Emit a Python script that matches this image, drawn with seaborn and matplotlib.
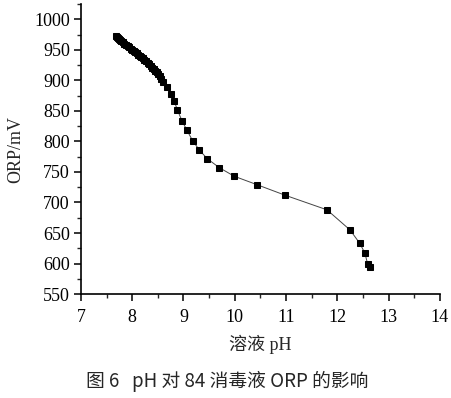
import matplotlib
matplotlib.use('Agg')
import matplotlib.pyplot as plt
from matplotlib.ticker import MultipleLocator
import seaborn as sns
import pandas as pd

# pH vs ORP readings, estimated from the figure
ph = [7.68, 7.70, 7.72, 7.74, 7.76, 7.79, 7.82, 7.85, 7.88, 7.91,
      7.94, 7.97, 8.00, 8.03, 8.06, 8.09, 8.12, 8.15, 8.18, 8.21,
      8.24, 8.27, 8.30, 8.33, 8.36, 8.39, 8.42, 8.45, 8.48, 8.51,
      8.54, 8.57, 8.61, 8.67, 8.75, 8.82, 8.88, 8.97, 9.07, 9.18,
      9.31, 9.46, 9.70, 9.99, 10.44, 10.98, 11.80, 12.25, 12.44, 12.54,
      12.59, 12.63]
orp = [973, 971, 970, 968, 966, 964, 962, 960, 958, 956,
       954, 952, 950, 948, 946, 944, 942, 940, 938, 936,
       933, 931, 929, 926, 924, 921, 919, 916, 913, 910,
       907, 903, 898, 889, 878, 866, 852, 834, 818, 801,
       786, 772, 757, 743, 729, 712, 688, 655, 633, 617,
       600, 594]

x_ticks = [7, 8, 9, 10, 11, 12, 13, 14]
y_ticks = [550, 600, 650, 700, 750, 800, 850, 900, 950, 1000]

df = pd.DataFrame({'pH': ph, 'ORP': orp})

sns.set_style('ticks')
serif = ['Liberation Serif', 'Noto Sans CJK SC']
plt.rcParams['font.family'] = serif

fig = plt.figure(figsize=(4.52, 3.98), dpi=100)
ax = fig.add_axes([0.179, 0.261, 0.794, 0.729])

sns.lineplot(data=df, x='pH', y='ORP', ax=ax, sort=False, estimator=None,
             color='#444444', linewidth=0.7, marker='s', markersize=4.3,
             markerfacecolor='black', markeredgecolor='black')

ax.set_xlim(7, 14)
ax.set_ylim(550, 1025)
ax.set_xticks(x_ticks)
ax.set_yticks(y_ticks)
ax.xaxis.set_minor_locator(MultipleLocator(0.5))
ax.yaxis.set_minor_locator(MultipleLocator(25))
ax.tick_params(which='major', direction='out', length=5, width=1.1,
               labelsize=13, colors='black')
ax.tick_params(axis='x', which='major', pad=6)
ax.tick_params(axis='y', which='major', pad=3)
ax.tick_params(which='minor', direction='out', length=3, width=1.0)
for lab in ax.get_xticklabels() + ax.get_yticklabels():
    lab.set_family(serif)

sns.despine(ax=ax)
for s in ['left', 'bottom']:
    ax.spines[s].set_linewidth(1.2)
    ax.spines[s].set_color('black')

ax.set_xlabel('溶液 pH', fontsize=13, family=serif, labelpad=6)
ax.set_ylabel('ORP/mV', fontsize=13, family=serif, labelpad=7)

fig.text(0.503, 0.042, '图 6   pH 对 84 消毒液 ORP 的影响', ha='center', va='center',
         fontsize=13.5, family=['Noto Sans CJK SC', 'DejaVu Sans'])

fig.savefig('out.png', dpi=100)
